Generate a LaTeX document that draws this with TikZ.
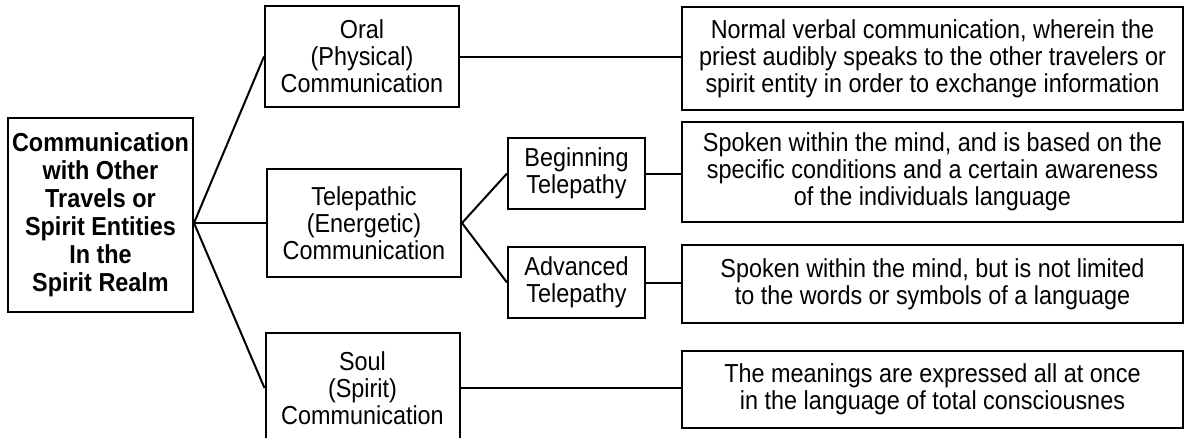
\documentclass[tikz,border=0pt]{standalone}
\usepackage{fontspec}
\setmainfont[FakeStretch=0.9]{Liberation Sans}
\usetikzlibrary{positioning,calc}

\begin{document}
\begin{tikzpicture}[x=1pt, y=-1pt,
  font=\fontsize{26}{27}\selectfont,
  box/.style={draw=black, line width=2pt, align=center, inner sep=0pt},
  root/.style={box, font=\fontsize{26}{28}\selectfont\bfseries, minimum width=185pt, minimum height=194pt},
  kind/.style={box, minimum width=194pt, minimum height=104pt},
  level/.style={box, minimum width=137pt, minimum height=71pt},
  desc/.style={box, minimum width=501pt},
  link/.style={draw=black, line width=2pt}]
  \useasboundingbox (0,0) rectangle (1187,437);
  \node[root] (comm) at (100.5,215) {Communication\\with Other\\Travels or\\Spirit Entities\\In the\\Spirit Realm};
  \node[kind, minimum height=101pt] (oral) at (362,56.5) {Oral\\(Physical)\\Communication};
  \node[kind, minimum height=108pt] (tele) at (364,223) {Telepathic\\(Energetic)\\Communication};
  \node[kind, minimum height=110pt] (soul) at (362.5,388) {Soul\\(Spirit)\\Communication};
  \node[level] (begin) at (576.5,173.5) {Beginning\\Telepathy};
  \node[level] (adv) at (576.5,282.5) {Advanced\\Telepathy};
  \node[desc, minimum height=103pt] (d1) at (932.5,58.5) {Normal verbal communication, wherein the\\priest audibly speaks to the other travelers or\\spirit entity in order to exchange information};
  \node[desc, minimum height=100pt] (d2) at (932.5,172) {Spoken within the mind, and is based on the\\specific conditions and a certain awareness\\of the individuals language};
  \node[desc, minimum height=78pt] (d3) at (932.5,284) {Spoken within the mind, but is not limited\\to the words or symbols of a language};
  \node[desc, minimum height=77pt] (d4) at (932.5,389.5) {The meanings are expressed all at once\\in the language of total consciousnes};
  \coordinate (fork) at (comm.east |- tele.west);
  \draw[link] (fork) -- (oral.west);
  \draw[link] (fork) -- (tele.west);
  \draw[link] (fork) -- (soul.west);
  \draw[link] (tele.east) -- (begin.west);
  \draw[link] (tele.east) -- (adv.west);
  \draw[link] (oral.east) -- (oral.east -| d1.west);
  \draw[link] (begin.east) -- (begin.east -| d2.west);
  \draw[link] (adv.east) -- (adv.east -| d3.west);
  \draw[link] (soul.east) -- (soul.east -| d4.west);
\end{tikzpicture}
\end{document}
